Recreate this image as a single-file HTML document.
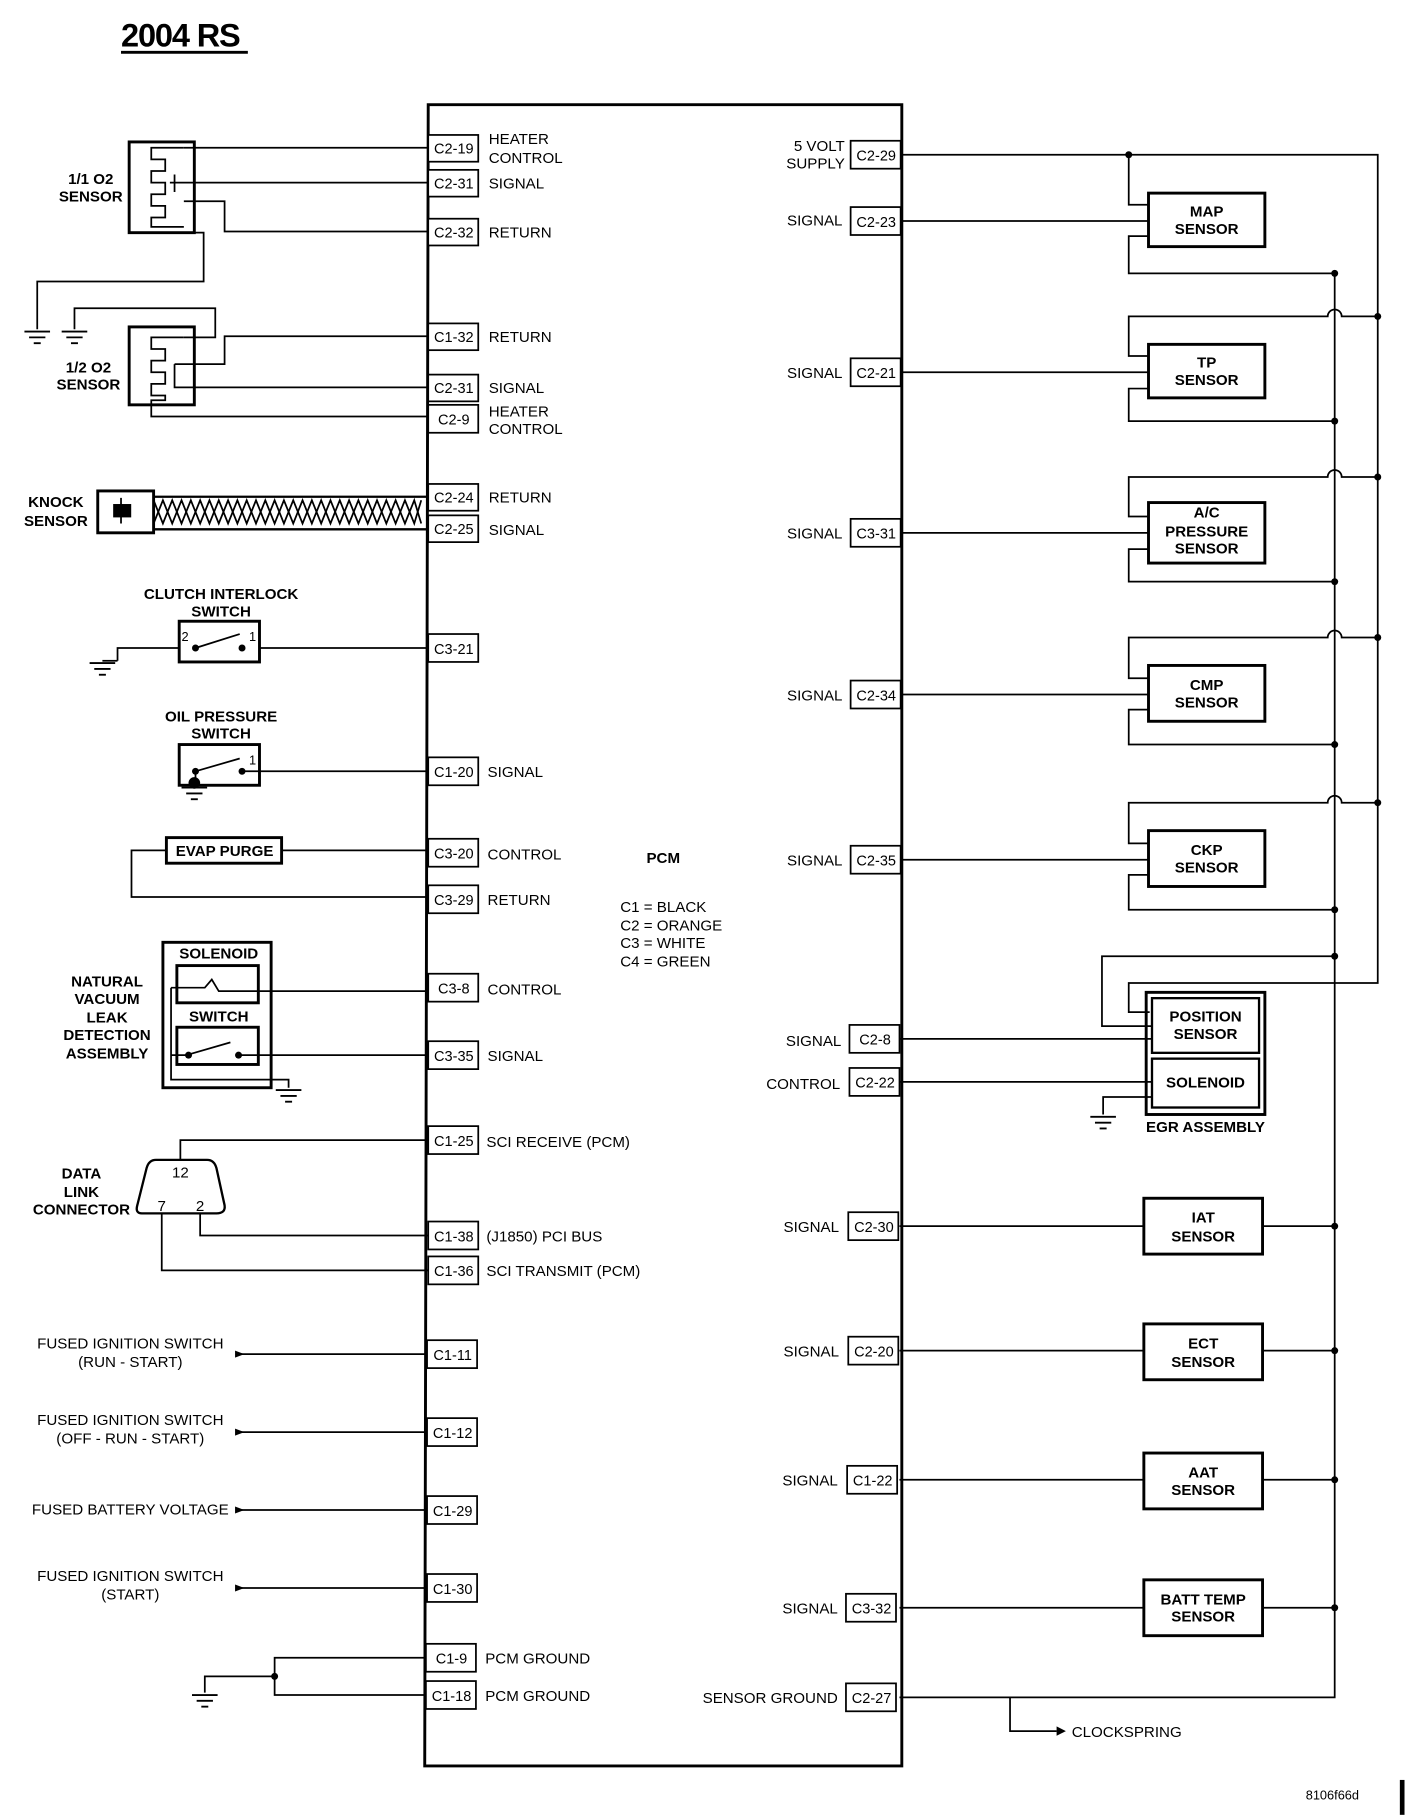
<!DOCTYPE html>
<html><head><meta charset="utf-8"><style>
html,body{margin:0;padding:0;background:#fff}
svg{display:block}
text{font-family:"Liberation Sans",Arial,sans-serif;fill:#000}
.b{font-weight:bold;font-size:13px}
.l{font-size:13px}
.c{font-size:12.5px}
</style></head><body>
<svg width="1408" height="1816" viewBox="0 0 1210 1561" preserveAspectRatio="none" xmlns="http://www.w3.org/2000/svg">
<defs>
<g id="gnd"><line x1="-11" y1="0" x2="11" y2="0" stroke="#000" stroke-width="1.6"/><line x1="-7" y1="5" x2="7" y2="5" stroke="#000" stroke-width="1.6"/><line x1="-3" y1="10" x2="3" y2="10" stroke="#000" stroke-width="1.6"/></g>
</defs>
<rect width="1210" height="1561" fill="#fff"/>
<text x="104" y="40" style="font-weight:bold;font-size:28px;letter-spacing:-1px">2004 RS</text>
<line x1="104" y1="45" x2="213" y2="45" stroke="#000" stroke-width="2.5"/>

<g fill="none" stroke="#000" stroke-width="1.5">
<!-- PCM -->
<path d="M368 90 H775 V1518 H365 Z" stroke-width="2.5"/>

<!-- 1/1 O2 -->
<rect x="111" y="122" width="56" height="78" stroke-width="2.5"/>
<path d="M158 127 H130 V137 H142 V147 H130 V157 H142 V167 H130 V177 H142 V187 H130 V195 H158"/>
<path d="M150 150 V165 M146 157 H150"/>
<path d="M150 157 H368 M158 127 H368 M158 173 H193 V199 H368 M158 200 H175 V242 H32 V283"/>
<path d="M64 283 V265 H185 V290 H158"/>
<!-- 1/2 O2 -->
<rect x="111" y="281" width="56" height="67" stroke-width="2.5"/>
<path d="M158 290 H130 V300 H142 V310 H130 V320 H142 V330 H130 V340 H142 V344 H130 V358 H368"/>
<path d="M150 313 V333 H368 M150 313 H193 V289 H368"/>
<!-- knock -->
<rect x="84" y="422" width="48" height="36" stroke-width="2.5"/>
<rect x="98" y="434" width="14" height="10" fill="#000"/>
<path d="M104 428 V434 M104 444 V450"/>
<path d="M132 427 H368 M132 455 H368" stroke-width="2"/>
<path d="M132 430 L140 450 L148 430 L156 450 L164 430 L172 450 L180 430 L188 450 L196 430 L204 450 L212 430 L220 450 L228 430 L236 450 L244 430 L252 450 L260 430 L268 450 L276 430 L284 450 L292 430 L300 450 L308 430 L316 450 L324 430 L332 450 L340 430 L348 450 L356 430 L362 450"/>
<path d="M132 450 L140 430 L148 450 L156 430 L164 450 L172 430 L180 450 L188 430 L196 450 L204 430 L212 450 L220 430 L228 450 L236 430 L244 450 L252 430 L260 450 L268 430 L276 450 L284 430 L292 450 L300 430 L308 450 L316 430 L324 450 L332 430 L340 450 L348 430 L356 450 L362 430"/>
<!-- clutch -->
<rect x="154" y="534" width="69" height="35" stroke-width="2.5"/>
<path d="M154 557 H101 V568 M223 557 H368 M168 557 L206 545"/>
<!-- oil -->
<rect x="154" y="640" width="69" height="35" stroke-width="2.5"/>
<path d="M168 663 L206 652 M209 663 H368 M168 663 V675"/>
<!-- evap -->
<rect x="143" y="720" width="99" height="22" stroke-width="2.5"/>
<path d="M242 731 H368 M143 731 H113 V771 H368"/>
<!-- NVLD -->
<rect x="140" y="810" width="93" height="125" stroke-width="2.5"/>
<rect x="152" y="830" width="70" height="32" stroke-width="2.5"/>
<rect x="152" y="883" width="70" height="32" stroke-width="2.5"/>
<path d="M147 849 H176 L182 842 L188 852 H368 M147 849 V928 H248 V935 M147 907 H160 M160 907 L198 896 M205 907 H368"/>
<!-- DLC -->
<path d="M134 997 H178 Q184 997 186 1004 L193 1036 Q194 1043 186 1043 H122 Q116 1043 118 1036 L126 1004 Q128 997 134 997 Z" stroke-width="2"/>
<path d="M155 997 V980 H368 M172 1043 V1062 H368 M139 1043 V1092 H368"/>
<!-- fused -->
<path d="M206 1164 H368 M206 1231 H368 M206 1298 H368 M206 1365 H368"/>
<!-- grounds -->
<path d="M368 1425 H236 V1457 H368 M236 1441 H176 V1455"/>
<!-- right side -->
<path d="M773 133 H1184 V845 H970 V870 H988 M970 133 V176 H987 M773 190 H987 M987 203 H970 V235 H1147 V1459 H773"/>
<path d="M773 320 H987 M987 306 H970 V272 H1141 A6 6 0 0 1 1153 272 H1184 M987 334 H970 V362 H1147"/>
<path d="M773 458 H987 M987 444 H970 V410 H1141 A6 6 0 0 1 1153 410 H1184 M987 472 H970 V500 H1147"/>
<path d="M773 597 H987 M987 583 H970 V548 H1141 A6 6 0 0 1 1153 548 H1184 M987 610 H970 V640 H1147"/>
<path d="M773 739 H987 M987 725 H970 V690 H1141 A6 6 0 0 1 1153 690 H1184 M987 752 H970 V782 H1147"/>
<path d="M1147 822 H947 V882 H990 M773 893 H990 M773 930 H990 M990 943 H948 V958"/>
<rect x="985" y="853" width="102" height="105" stroke-width="2.5"/>
<rect x="990" y="858" width="92" height="47" stroke-width="2"/>
<rect x="990" y="910" width="92" height="42" stroke-width="2"/>
<path d="M773 1054 H1147 M773 1161 H1147 M773 1272 H1147 M773 1382 H1147"/>
<path d="M868 1459 V1488 H908"/>
</g>
<polygon points="908,1484 916,1488 908,1492" fill="#000"/>
<use href="#gnd" x="32" y="285"/><use href="#gnd" x="64" y="285"/>
<use href="#gnd" x="88" y="570"/><use href="#gnd" x="167" y="677"/>
<use href="#gnd" x="248" y="937"/><use href="#gnd" x="176" y="1457"/><use href="#gnd" x="948" y="960"/>
<line x1="88" y1="568" x2="101" y2="568" stroke="#000" stroke-width="1.5"/>
<g fill="#000">
<circle cx="168" cy="557" r="3"/><circle cx="208" cy="557" r="3"/>
<circle cx="168" cy="663" r="3"/><circle cx="208" cy="663" r="3"/><circle cx="167" cy="673" r="5"/>
<circle cx="162" cy="907" r="3"/><circle cx="205" cy="907" r="3"/>
<circle cx="236" cy="1441" r="3"/>
<circle cx="970" cy="133" r="3"/>
<circle cx="1147" cy="235" r="3"/><circle cx="1147" cy="362" r="3"/><circle cx="1147" cy="500" r="3"/><circle cx="1147" cy="640" r="3"/><circle cx="1147" cy="782" r="3"/><circle cx="1147" cy="822" r="3"/>
<circle cx="1184" cy="272" r="3"/><circle cx="1184" cy="410" r="3"/><circle cx="1184" cy="548" r="3"/><circle cx="1184" cy="690" r="3"/>
<circle cx="1147" cy="1054" r="3"/><circle cx="1147" cy="1161" r="3"/><circle cx="1147" cy="1272" r="3"/><circle cx="1147" cy="1382" r="3"/>
<polygon points="202,1161 210,1164 202,1167"/><polygon points="202,1228 210,1231 202,1234"/><polygon points="202,1295 210,1298 202,1301"/><polygon points="202,1362 210,1365 202,1368"/>
<rect x="1203" y="1530" width="4" height="30"/>
</g>

<!-- connector boxes left -->
<g fill="#fff" stroke="#000" stroke-width="1.5">
<rect x="368" y="116" width="43" height="23"/><rect x="368" y="146" width="43" height="23"/><rect x="368" y="188" width="43" height="23"/>
<rect x="368" y="278" width="43" height="23"/><rect x="368" y="322" width="43" height="23"/><rect x="368" y="348" width="43" height="24"/>
<rect x="368" y="416" width="43" height="23"/><rect x="368" y="443" width="43" height="23"/>
<rect x="368" y="545" width="43" height="24"/><rect x="368" y="651" width="43" height="24"/>
<rect x="368" y="721" width="43" height="24"/><rect x="368" y="761" width="43" height="24"/>
<rect x="368" y="837" width="43" height="24"/><rect x="368" y="895" width="43" height="24"/>
<rect x="368" y="968" width="43" height="24"/><rect x="368" y="1050" width="43" height="24"/><rect x="368" y="1080" width="43" height="24"/>
<rect x="367" y="1152" width="43" height="24"/><rect x="367" y="1219" width="43" height="24"/><rect x="367" y="1286" width="43" height="24"/><rect x="367" y="1353" width="43" height="24"/>
<rect x="366" y="1413" width="43" height="24"/><rect x="366" y="1445" width="43" height="24"/>
<!-- right -->
<rect x="731" y="121" width="43" height="24"/><rect x="731" y="178" width="43" height="24"/><rect x="731" y="308" width="43" height="24"/>
<rect x="731" y="446" width="43" height="24"/><rect x="731" y="585" width="43" height="24"/><rect x="731" y="727" width="43" height="24"/>
<rect x="730" y="881" width="43" height="24"/><rect x="730" y="918" width="43" height="24"/><rect x="729" y="1042" width="43" height="24"/>
<rect x="729" y="1149" width="43" height="24"/><rect x="728" y="1260" width="43" height="24"/><rect x="727" y="1370" width="43" height="24"/><rect x="727" y="1447" width="43" height="24"/>
<!-- sensors -->
<rect x="987" y="166" width="100" height="46" stroke-width="2.5"/><rect x="987" y="296" width="100" height="46" stroke-width="2.5"/>
<rect x="987" y="432" width="100" height="52" stroke-width="2.5"/><rect x="987" y="572" width="100" height="48" stroke-width="2.5"/>
<rect x="987" y="714" width="100" height="48" stroke-width="2.5"/>
<rect x="983" y="1030" width="102" height="48" stroke-width="2.5"/><rect x="983" y="1138" width="102" height="48" stroke-width="2.5"/>
<rect x="983" y="1249" width="102" height="48" stroke-width="2.5"/><rect x="983" y="1358" width="102" height="48" stroke-width="2.5"/>
</g>

<g class="c" text-anchor="middle">
<text x="390" y="132">C2-19</text><text x="390" y="162">C2-31</text><text x="390" y="204">C2-32</text>
<text x="390" y="294">C1-32</text><text x="390" y="338">C2-31</text><text x="390" y="365">C2-9</text>
<text x="390" y="432">C2-24</text><text x="390" y="459">C2-25</text><text x="390" y="562">C3-21</text><text x="390" y="668">C1-20</text>
<text x="390" y="738">C3-20</text><text x="390" y="778">C3-29</text><text x="390" y="854">C3-8</text><text x="390" y="912">C3-35</text>
<text x="390" y="985">C1-25</text><text x="390" y="1067">C1-38</text><text x="390" y="1097">C1-36</text>
<text x="389" y="1169">C1-11</text><text x="389" y="1236">C1-12</text><text x="389" y="1303">C1-29</text><text x="389" y="1370">C1-30</text>
<text x="388" y="1430">C1-9</text><text x="388" y="1462">C1-18</text>
<text x="753" y="138">C2-29</text><text x="753" y="195">C2-23</text><text x="753" y="325">C2-21</text><text x="753" y="463">C3-31</text>
<text x="753" y="602">C2-34</text><text x="753" y="744">C2-35</text><text x="752" y="898">C2-8</text><text x="752" y="935">C2-22</text>
<text x="751" y="1059">C2-30</text><text x="751" y="1166">C2-20</text><text x="750" y="1277">C1-22</text><text x="749" y="1387">C3-32</text><text x="749" y="1464">C2-27</text>
</g>
<g class="l">
<text x="420" y="124">HEATER</text><text x="420" y="140">CONTROL</text><text x="420" y="162">SIGNAL</text><text x="420" y="204">RETURN</text>
<text x="420" y="294">RETURN</text><text x="420" y="338">SIGNAL</text><text x="420" y="358">HEATER</text><text x="420" y="373">CONTROL</text>
<text x="420" y="432">RETURN</text><text x="420" y="460">SIGNAL</text><text x="419" y="668">SIGNAL</text>
<text x="419" y="739">CONTROL</text><text x="419" y="778">RETURN</text><text x="419" y="855">CONTROL</text><text x="419" y="912">SIGNAL</text>
<text x="418" y="986">SCI RECEIVE (PCM)</text><text x="418" y="1067">(J1850) PCI BUS</text><text x="418" y="1097">SCI TRANSMIT (PCM)</text>
<text x="417" y="1430">PCM GROUND</text><text x="417" y="1462">PCM GROUND</text>
<text x="533" y="784">C1 = BLACK</text><text x="533" y="800">C2 = ORANGE</text><text x="533" y="815">C3 = WHITE</text><text x="533" y="831">C4 = GREEN</text>
<text x="921" y="1493">CLOCKSPRING</text>
</g>
<g class="l" text-anchor="end">
<text x="726" y="130">5 VOLT</text><text x="726" y="145">SUPPLY</text><text x="724" y="194">SIGNAL</text><text x="724" y="325">SIGNAL</text>
<text x="724" y="463">SIGNAL</text><text x="724" y="602">SIGNAL</text><text x="724" y="744">SIGNAL</text><text x="723" y="899">SIGNAL</text>
<text x="722" y="936">CONTROL</text><text x="721" y="1059">SIGNAL</text><text x="721" y="1166">SIGNAL</text><text x="720" y="1277">SIGNAL</text>
<text x="720" y="1387">SIGNAL</text><text x="720" y="1464">SENSOR GROUND</text>
</g>
<g class="l" text-anchor="middle">
<text x="112" y="1159">FUSED IGNITION SWITCH</text><text x="112" y="1175">(RUN - START)</text>
<text x="112" y="1225">FUSED IGNITION SWITCH</text><text x="112" y="1241">(OFF - RUN - START)</text>
<text x="112" y="1302">FUSED BATTERY VOLTAGE</text>
<text x="112" y="1359">FUSED IGNITION SWITCH</text><text x="112" y="1375">(START)</text>
<text x="155" y="1012">12</text><text x="139" y="1041">7</text><text x="172" y="1041">2</text>
<text x="1145" y="1547" style="font-size:11px">8106f66d</text>
</g>
<g class="b" text-anchor="middle">
<text x="78" y="158">1/1 O2</text><text x="78" y="173">SENSOR</text>
<text x="76" y="320">1/2 O2</text><text x="76" y="335">SENSOR</text>
<text x="48" y="436">KNOCK</text><text x="48" y="452">SENSOR</text>
<text x="190" y="515">CLUTCH INTERLOCK</text><text x="190" y="530">SWITCH</text>
<text x="190" y="620">OIL PRESSURE</text><text x="190" y="635">SWITCH</text>
<text x="193" y="736">EVAP PURGE</text>
<text x="188" y="824">SOLENOID</text><text x="188" y="878">SWITCH</text>
<text x="92" y="848">NATURAL</text><text x="92" y="863">VACUUM</text><text x="92" y="879">LEAK</text><text x="92" y="894">DETECTION</text><text x="92" y="910">ASSEMBLY</text>
<text x="70" y="1013">DATA</text><text x="70" y="1029">LINK</text><text x="70" y="1044">CONNECTOR</text>
<text x="570" y="742">PCM</text>
<text x="1037" y="186">MAP</text><text x="1037" y="201">SENSOR</text>
<text x="1037" y="316">TP</text><text x="1037" y="331">SENSOR</text>
<text x="1037" y="445">A/C</text><text x="1037" y="461">PRESSURE</text><text x="1037" y="476">SENSOR</text>
<text x="1037" y="593">CMP</text><text x="1037" y="608">SENSOR</text>
<text x="1037" y="735">CKP</text><text x="1037" y="750">SENSOR</text>
<text x="1036" y="878">POSITION</text><text x="1036" y="893">SENSOR</text>
<text x="1036" y="935">SOLENOID</text><text x="1036" y="973">EGR ASSEMBLY</text>
<text x="1034" y="1051">IAT</text><text x="1034" y="1067">SENSOR</text>
<text x="1034" y="1159">ECT</text><text x="1034" y="1175">SENSOR</text>
<text x="1034" y="1270">AAT</text><text x="1034" y="1285">SENSOR</text>
<text x="1034" y="1379">BATT TEMP</text><text x="1034" y="1394">SENSOR</text>
</g>
<g style="font-size:11px">
<text x="156" y="551">2</text><text x="214" y="551">1</text><text x="214" y="657">1</text>
</g>
</svg>
</body></html>
